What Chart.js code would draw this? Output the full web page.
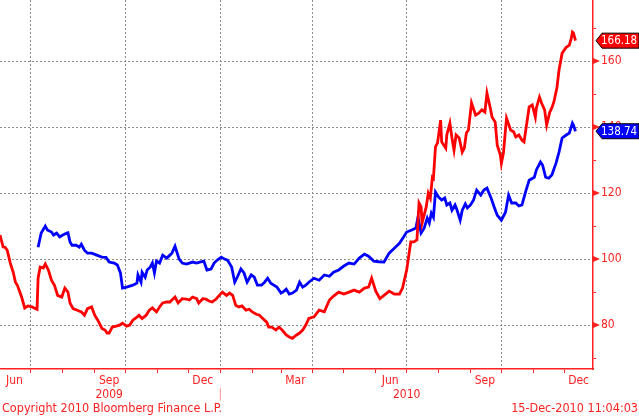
<!DOCTYPE html>
<html>
<head>
<meta charset="utf-8">
<script src="https://cdn.jsdelivr.net/npm/chart.js@4.4.0/dist/chart.umd.min.js"></script>
<style>
  html, body { margin: 0; padding: 0; background: #fff; }
  #wrap { width: 639px; height: 417px; position: relative; }
</style>
</head>
<body>
<div id="wrap"><canvas id="chart"></canvas></div>
<script>
// days counted from 1 Jun 2009
const redDays = [0,3,5,7,10,13,15,17,21,24,27,31,36,37,39,42,44,47,50,53,56,60,63,66,68,71,75,79,82,85,89,92,95,99,102,104,
  106,109,113,116,119,123,126,129,133,135,138,142,145,148,152,155,158,162,165,167,170,173,177,181,184,187,191,193,197,
  200,203,206,210,213,216,220,223,226,229,232,235,239,242,245,249,252,255,259,261,264,268,271,274,278,281,284,288,291,294,297,
  300,305,310,315,320,324,329,334,339,344,349,354,358,361,365,369,373,378,383,388,391,395,399,402,405,407,409,410,414,416,418,
  420,421,423,425,428,429,433,434,437,439,441,443,446,449,451,453,455,458,462,465,468,471,473,476,478,481,483,486,487,489,492,
  496,499,501,504,507,509,511,514,517,520,521,524,526,529,531,534,536,538,541,543,546,550,553,555,556,557,559];
const redValues = [107.3,103.7,103.5,102.7,98.8,95.8,93,92,88.5,85.2,85.8,85.5,84.8,94.2,97.6,97.3,98.5,96.7,93.6,92,89,88.5,91.2,90,86.7,85,84.5,84,83,85,85.5,83,81.5,79,78.5,77.6,
  77.6,79.4,79.7,80,80.6,79.7,80,81.5,82.4,83,82,83,84.5,85.2,84,85.5,86.7,87,87,87.6,88.5,86.7,88,87.9,87.6,88.5,88,86.7,88,
  87.9,87.3,87,87.9,89,90,89,89.7,89,86,85.5,85.8,84.5,84.8,84,83.3,83,82.1,80.9,79.4,79.4,78.5,79.4,78.5,77,76.4,76,77,77.6,78.5,80,
  82,82.5,84.5,84,87.6,88.8,90,89.4,90,90.6,90,91.2,91.5,94.2,90.3,88,89,90.3,89.4,89.4,91.2,96.7,105.2,105.2,105.8,117,115.8,110.9,115.8,120,118.5,
  124.8,124.5,134,135.2,142.1,135.5,133.6,137.6,141.2,136.7,133,137.6,136.7,132.4,133.6,138.2,139.1,147.3,143.6,144.2,145.2,144.5,150.3,146.1,143,141.5,134.5,131.5,129,132.1,142.7,
  139.1,138.5,137,137.6,136,135.5,139.7,146.1,146.7,143,145.8,149.1,147.3,145.2,140.6,144.5,145.8,147.6,152,157.3,162.4,164.2,164.8,167,168.8,168.5,166.18];

const blueDays = [37,40,44,46,50,52,55,58,61,65,66,68,70,74,77,79,82,85,89,94,99,103,106,111,114,117,119,123,126,129,133,134,137,138,141,143,146,148,150,152,
  155,158,162,165,167,170,174,177,181,184,187,191,194,198,201,205,208,211,215,218,221,225,228,230,234,237,240,244,247,250,254,257,260,263,266,269,273,276,278,281,
  284,288,291,294,297,300,305,310,315,320,324,329,334,339,344,349,354,358,363,368,373,378,383,388,392,395,400,404,406,409,412,415,417,419,421,423,426,429,432,434,
  437,439,442,444,447,449,452,454,457,460,463,467,470,473,477,480,483,487,491,494,497,501,504,507,511,514,519,521,525,527,530,533,536,540,543,546,550,553,556,557,559];
const blueValues = [103.6,107.9,110,108.8,108.2,107.3,107.9,106.7,107.3,107.9,108,105.2,104.2,104.2,103.6,104.5,102.7,101.8,101.8,101.2,100.6,100.5,99.1,98.8,98.2,95.8,91.2,91.5,91.8,92.1,92.7,95.2,93,96,94.5,96.7,97.6,98.8,95.8,99.4,
  98.8,101.2,100.3,101.2,101.8,103.9,100,98.8,98.5,98.8,99.1,98.8,99.1,99.4,96.7,97,98.8,99.7,100.6,100,99.7,97.6,93,94.2,97,95.8,93,95.2,94.5,92.1,92.1,93,94.2,92.7,92.1,91.5,89.7,90.3,90.9,89.4,
  89.7,90.6,93,91.5,92.1,93,94.2,93.6,95.2,94.8,96,96.7,97.9,98.8,98.5,100.3,101.5,100.9,99.4,99.2,99.1,101.8,103.3,104.8,106.7,108.2,108.8,109.4,112.7,107.9,109.4,112.4,110.9,113.9,112.7,
  120.3,118.8,117.9,118.5,116.4,117,114.8,116.4,114.8,111.8,114.8,116.7,115.5,116.4,117.9,120.9,119.4,120.9,121.5,118.5,115.8,113.3,111.8,114.2,119.4,117,117,116.1,116.4,120.9,123.9,124.8,127,129.4,128.5,124.8,124.5,125.5,129,132.4,136.7,137.6,138.2,141.2,140.6,138.74];

// axis ticks
const monthStarts = [30,61,92,122,153,183,214,245,273,304,334,365,395,426,457,487,518,548];
const quarterStarts = [30,122,214,304,395,487];
const monthLabelDays = [14,106,197,287,379,471,562];
const monthLabels = ['Jun','Sep','Dec','Mar','Jun','Sep','Dec'];
const yearLabelDays = [106,214,395];
const yearLabels = ['2009','|','2010'];
const yTicks = [70,80,90,100,110,120,130,140,150,160,170];

const footerLeft = 'Copyright 2010 Bloomberg Finance L.P.';
const footerRight = '15-Dec-2010 11:04:03';

const RED = '#ff0000';
const BLUE = '#0000ff';
const AXIS_RED = '#ff2020';
const GRID = '#8c8c8c';
const FAMILY = "'DejaVu Sans Condensed', 'DejaVu Sans', sans-serif";
const FONT = { family: FAMILY, size: 12 };

function toPoints(days, values) {
    return days.map((d, i) => ({ x: d, y: values[i] }));
}

function noPad(s) {
    s.paddingLeft = 0; s.paddingRight = 0; s.paddingTop = 0; s.paddingBottom = 0;
}

const bloombergExtras = {
    id: 'bloombergExtras',
    afterDraw(chart) {
        const ctx = chart.ctx;
        const y = chart.scales.y;
        const right = chart.chartArea.right;
        ctx.save();
        // triangle markers at labelled ticks
        ctx.fillStyle = AXIS_RED;
        yTicks.filter(v => v % 20 === 0).forEach(v => {
            const py = y.getPixelForValue(v);
            ctx.beginPath();
            ctx.moveTo(right, py - 3);
            ctx.lineTo(right + 7, py);
            ctx.lineTo(right, py + 3);
            ctx.closePath();
            ctx.fill();
        });
        // last value badges
        chart.data.datasets.forEach(ds => {
            const last = ds.data[ds.data.length - 1].y;
            const py = y.getPixelForValue(last);
            ctx.beginPath();
            ctx.moveTo(right + 3, py);
            ctx.lineTo(right + 9, py - 7.5);
            ctx.lineTo(639, py - 7.5);
            ctx.lineTo(639, py + 7.5);
            ctx.lineTo(right + 9, py + 7.5);
            ctx.closePath();
            ctx.fillStyle = ds.borderColor;
            ctx.fill();
            ctx.strokeStyle = '#000';
            ctx.lineWidth = 1;
            ctx.stroke();
            ctx.fillStyle = '#fff';
            ctx.font = `11.5px ${FAMILY}`;
            ctx.textBaseline = 'middle';
            ctx.textAlign = 'left';
            ctx.fillText(last.toFixed(2), right + 8, py + 0.5);
        });
        // footer
        ctx.fillStyle = AXIS_RED;
        ctx.font = `12.5px ${FAMILY}`;
        ctx.textBaseline = 'middle';
        ctx.textAlign = 'left';
        ctx.fillText(footerLeft, 2, 409);
        ctx.textAlign = 'right';
        ctx.fillText(footerRight, 638, 409);
        ctx.restore();
    }
};

new Chart(document.getElementById('chart').getContext('2d'), {
    type: 'line',
    data: {
        datasets: [
            { label: 'red', data: toPoints(redDays, redValues), borderColor: RED, borderWidth: 2.8,
              pointRadius: 0, tension: 0, xAxisID: 'x', yAxisID: 'y' },
            { label: 'blue', data: toPoints(blueDays, blueValues), borderColor: BLUE, borderWidth: 2.8,
              pointRadius: 0, tension: 0, xAxisID: 'x', yAxisID: 'y' }
        ]
    },
    options: {
        responsive: true,
        maintainAspectRatio: false,
        animation: false,
        devicePixelRatio: 1,
        layout: { padding: { left: 0, right: 0, top: 0, bottom: 15 } },
        plugins: { legend: { display: false }, tooltip: { enabled: false } },
        scales: {
            x: {
                type: 'linear', position: 'bottom', min: 0, max: 576,
                afterBuildTicks: s => { s.ticks = monthStarts.map(v => ({ value: v })); },
                afterFit: s => { s.height = 4; noPad(s); },
                grid: {
                    color: c => (c.tick && quarterStarts.includes(c.tick.value)) ? GRID : 'rgba(0,0,0,0)',
                    tickColor: AXIS_RED, tickLength: 4, lineWidth: 1
                },
                border: { color: AXIS_RED, width: 1.5, dash: [2, 2] },
                ticks: { display: false }
            },
            xm: {
                type: 'linear', position: 'bottom', min: 0, max: 576,
                afterBuildTicks: s => { s.ticks = monthLabelDays.map(v => ({ value: v })); },
                afterFit: s => { s.height = 15; noPad(s); },
                grid: { display: false, drawTicks: false },
                border: { display: false },
                ticks: { color: AXIS_RED, font: FONT, padding: 1, maxRotation: 0, autoSkip: false,
                         callback: (v, i) => monthLabels[i] }
            },
            xy: {
                type: 'linear', position: 'bottom', min: 0, max: 576,
                afterBuildTicks: s => { s.ticks = yearLabelDays.map(v => ({ value: v })); },
                afterFit: s => { s.height = 14; noPad(s); },
                grid: { display: false, drawTicks: false },
                border: { display: false },
                ticks: { font: FONT, padding: 0, maxRotation: 0, autoSkip: false,
                         color: c => yearLabels[c.index] === '|' ? 'rgba(255,110,110,0.8)' : AXIS_RED,
                         callback: (v, i) => yearLabels[i] }
            },
            y: {
                type: 'linear', position: 'right', min: 66.7, max: 178.5,
                afterBuildTicks: s => { s.ticks = yTicks.map(v => ({ value: v })); },
                afterFit: s => { s.width = 46; noPad(s); },
                grid: {
                    color: c => (c.tick && c.tick.value % 20 === 0) ? GRID : 'rgba(0,0,0,0)',
                    tickColor: AXIS_RED, tickLength: 3, lineWidth: 1
                },
                border: { color: AXIS_RED, width: 1.5, dash: [2, 2] },
                ticks: { color: AXIS_RED, font: FONT, padding: 5,
                         callback: v => (v % 20 === 0 ? String(v) : '') }
            }
        }
    },
    plugins: [bloombergExtras]
});
</script>
</body>
</html>
